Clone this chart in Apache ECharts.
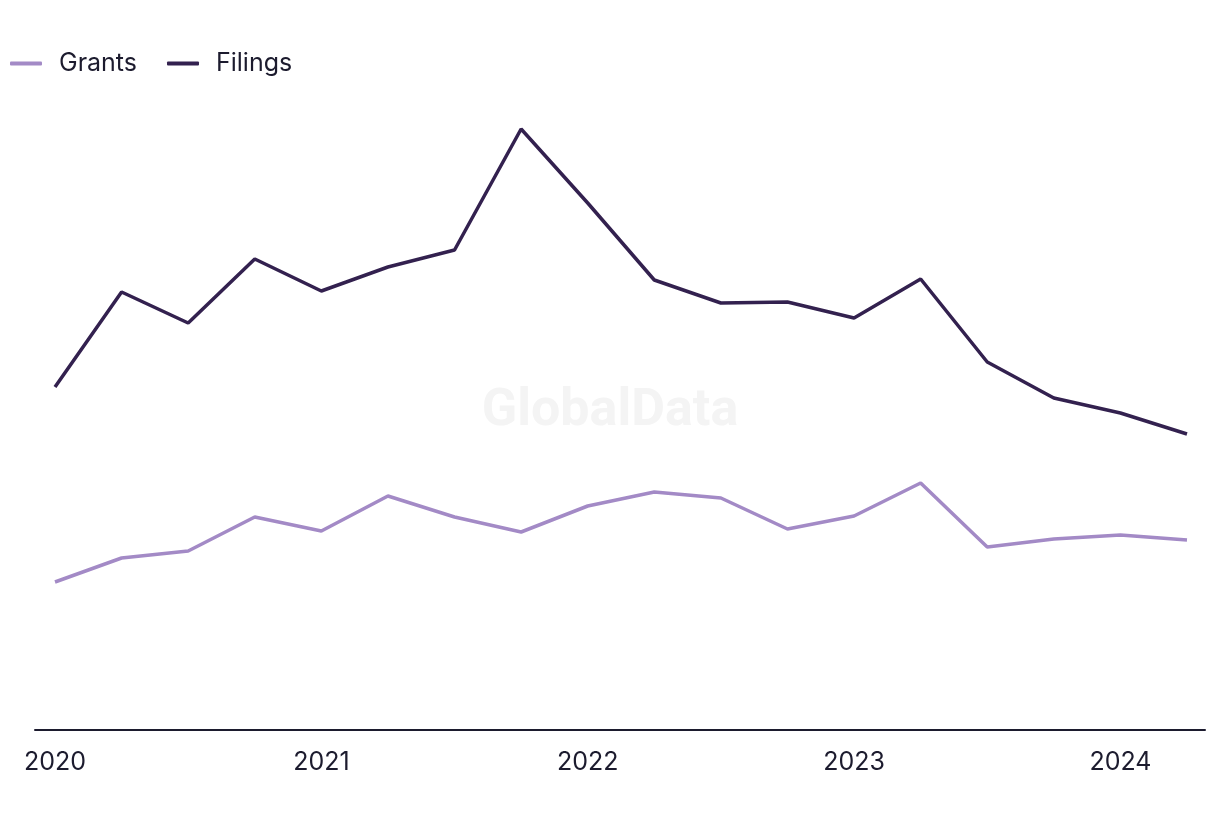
<!DOCTYPE html>
<html>
<head>
<meta charset="utf-8">
<script src="https://cdn.jsdelivr.net/npm/echarts@6/dist/echarts.min.js"></script>
<style>html,body{margin:0;padding:0;background:#fff}#c{width:1220px;height:820px}</style>
</head>
<body>
<div id="c"></div>
<script>
const quarters = ["2020 Q1","2020 Q2","2020 Q3","2020 Q4","2021 Q1","2021 Q2","2021 Q3","2021 Q4","2022 Q1","2022 Q2","2022 Q3","2022 Q4","2023 Q1","2023 Q2","2023 Q3","2023 Q4","2024 Q1","2024 Q2"];
const grants = [148,172,179,213,199,234,213,198,224,238,232,201,214,247,183,191,195,190];
const filings = [343,438,407,471,439,463,480,601,527,450,427,428,412,451,368,332,317,296];

const chart = echarts.init(document.getElementById('c'), null, {renderer:'canvas'});
const font = 'Inter, "Noto Sans", sans-serif';
chart.setOption({
  animation:false,
  backgroundColor:'#ffffff',
  title:{text:'GlobalData',left:'center',top:381,textStyle:{color:'#f4f4f4',fontSize:52,fontWeight:'bold',fontFamily:'Roboto, sans-serif'}},
  legend:{
    left:5, top:46, itemWidth:32, itemHeight:4, itemGap:30, icon:'roundRect',
    textStyle:{fontFamily:font,fontSize:25,color:'#1c1b2e',padding:[0,0,0,12]},
    data:['Grants','Filings']
  },
  grid:[
    {left:55,right:33,top:100,bottom:90},
    {left:35,right:15,top:100,bottom:90}
  ],
  xAxis:[
    {type:'category',gridIndex:0,data:quarters,boundaryGap:false,
     axisLine:{show:false},axisTick:{show:false},splitLine:{show:false},
     axisLabel:{interval:3,margin:20,fontFamily:font,fontSize:25,color:'#1c1b2e',
       formatter:v=>v.slice(0,4)}},
    {type:'value',gridIndex:1,min:0,max:1,
     axisLine:{show:true,onZero:false,lineStyle:{color:'#1c1b2e',width:2}},
     axisTick:{show:false},axisLabel:{show:false},splitLine:{show:false}}
  ],
  yAxis:[
    {type:'value',gridIndex:0,min:0,max:630,show:false},
    {type:'value',gridIndex:1,min:0,max:630,show:false}
  ],
  series:[
    {name:'Grants',type:'line',data:grants,symbol:'none',xAxisIndex:0,yAxisIndex:0,
     lineStyle:{color:'#a38ac6',width:3.5},itemStyle:{color:'#a38ac6'}},
    {name:'Filings',type:'line',data:filings,symbol:'none',xAxisIndex:0,yAxisIndex:0,
     lineStyle:{color:'#33214f',width:3.5},itemStyle:{color:'#33214f'}}
  ]
});
</script>
</body>
</html>
